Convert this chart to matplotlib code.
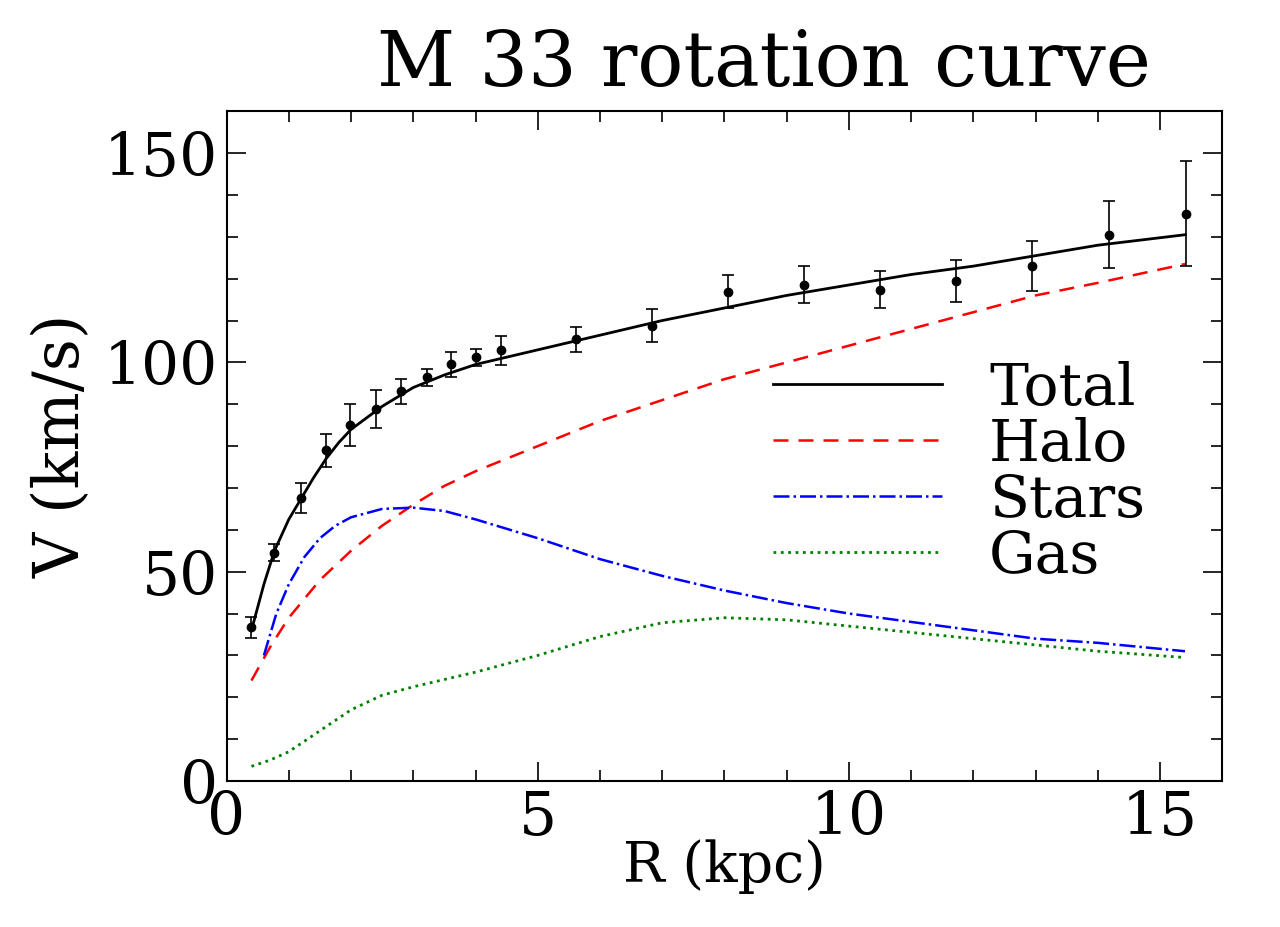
import numpy as np
import matplotlib
matplotlib.use("Agg")
import matplotlib.pyplot as plt
from matplotlib.ticker import MultipleLocator

# ---------------- DATA ----------------
r_obs = [0.40, 0.77, 1.19, 1.59, 1.99, 2.40, 2.80, 3.22, 3.60, 4.00,
         4.41, 5.61, 6.83, 8.05, 9.28, 10.50, 11.72, 12.94, 14.18, 15.42]
v_obs = [36.7, 54.5, 67.6, 79.0, 85.0, 88.8, 93.1, 96.4, 99.5, 101.2,
         102.9, 105.5, 108.8, 116.9, 118.6, 117.4, 119.5, 123.1, 130.5, 135.5]
v_err = [2.5, 2.0, 3.5, 4.0, 5.0, 4.5, 3.0, 2.0, 3.0, 2.0,
         3.5, 3.0, 4.0, 4.0, 4.5, 4.5, 5.0, 6.0, 8.0, 12.5]

r_tot = [0.4, 0.6, 0.77, 1.0, 1.2, 1.4, 1.6, 1.8, 2.0, 2.5, 3.0, 3.5, 4.0, 5.0,
         6.0, 7.0, 8.0, 9.0, 10.0, 11.0, 12.0, 13.0, 14.0, 15.4]
v_tot = [36, 47, 55, 62.5, 67.5, 72.5, 77, 80.8, 84, 89.5, 94, 97, 99.5, 103,
         106.5, 110, 113, 116, 118.5, 121, 123, 125.5, 128, 130.5]

r_halo = [0.4, 0.7, 1.0, 1.5, 2.0, 2.5, 3.0, 3.5, 4.0, 5.0, 6.0, 7.0, 8.0, 9.0,
          10.0, 11.0, 12.0, 13.0, 14.0, 15.4]
v_halo = [24, 32, 39, 48, 55, 61, 66, 70.5, 74, 80, 86, 91, 96, 100,
          104, 108, 112, 116, 119, 123.5]

r_star = [0.6, 0.8, 1.0, 1.25, 1.5, 1.75, 2.0, 2.5, 3.0, 3.5, 4.0, 5.0, 6.0, 7.0,
          8.0, 9.0, 10.0, 11.0, 12.0, 13.0, 14.0, 15.4]
v_star = [30, 40, 47, 53.5, 58, 61, 63, 65, 65.3, 64.5, 62.5, 58, 53, 49,
          45.5, 42.5, 40, 38, 36, 34, 33, 31]

r_gas = [0.4, 0.7, 1.0, 1.5, 2.0, 2.5, 3.0, 4.0, 5.0, 6.0, 7.0, 8.0, 9.0,
         10.0, 11.0, 12.0, 13.0, 14.0, 15.4]
v_gas = [3.5, 5, 7, 12, 17, 20.5, 22.5, 26, 30, 34.5, 37.8, 39, 38.5,
         37, 35.5, 34, 32.5, 31, 29.5]

# ---------------- PLOT ----------------
plt.rcParams["font.family"] = "DejaVu Serif"
fig = plt.figure(figsize=(12.8, 9.27), dpi=100)
ax = fig.add_axes([0.177, 0.1575, 0.778, 0.7225])

ax.plot(r_tot, v_tot, "k-", lw=2, label="Total")
ax.plot(r_halo, v_halo, "r--", lw=1.8, dashes=(6, 4), label="Halo")
ax.plot(r_star, v_star, "b-.", lw=1.8, label="Stars")
ax.plot(r_gas, v_gas, ":", color="green", lw=2, label="Gas")
ax.errorbar(r_obs, v_obs, yerr=v_err, fmt="o", color="k", ms=6,
            capsize=4, elinewidth=1.2, capthick=1.2)

ax.set_xlim(0, 16)
ax.set_ylim(0, 160)
ax.xaxis.set_major_locator(MultipleLocator(5))
ax.xaxis.set_minor_locator(MultipleLocator(1))
ax.yaxis.set_major_locator(MultipleLocator(50))
ax.yaxis.set_minor_locator(MultipleLocator(10))
ax.tick_params(which="both", direction="in", top=True, right=True,
               labelsize=43, width=1.2, pad=6)
ax.tick_params(which="major", length=14)
ax.tick_params(which="minor", length=8)
for s in ax.spines.values():
    s.set_linewidth(1.5)

ax.set_xlabel("R (kpc)", fontsize=40, labelpad=-6)
ax.set_ylabel("V (km/s)", fontsize=45, labelpad=8)
ax.set_title("M 33 rotation curve", fontsize=55, pad=18, x=0.54)
ax.legend(loc="center right", bbox_to_anchor=(0.975, 0.46), frameon=False,
          fontsize=42, handlelength=2.9, labelspacing=0.0, handletextpad=0.8)

plt.savefig("out.png", dpi=100)
plt.close()
